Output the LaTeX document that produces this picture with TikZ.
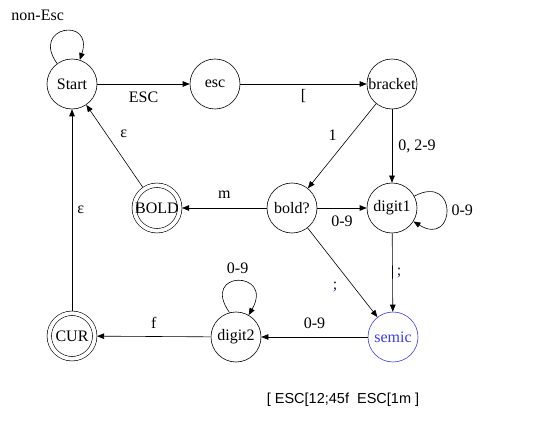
\documentclass[tikz,border=0pt]{standalone}
\usepackage{fontspec}
\setmainfont{Liberation Serif}
\newfontfamily\inputfont{Liberation Sans}
\usetikzlibrary{arrows.meta}
\definecolor{semicblue}{RGB}{60,60,225}
\definecolor{semicmark}{RGB}{30,30,75}
\tikzset{
  every node/.style={font=\fontsize{16}{19}\selectfont, inner sep=2pt},
  state/.style={draw, circle, minimum size=50pt, inner sep=0pt},
  accept/.style={state, double, double distance=3.8pt, minimum size=45.5pt, outer sep=2.3pt},
  trans/.style={-{Triangle[length=7pt,width=5.5pt]}},
}
\begin{document}
\begin{tikzpicture}[x=1pt, y=1pt, line width=0.6pt]
        \useasboundingbox (0,0) rectangle (552,-425);
        % states
        \node [state] (start) at (72,-84) {Start};
        \node [state] (esc) at (215,-84) {esc};
        \node [state] (bracket) at (392,-84) {bracket};
        \node [state] (boldq) at (292,-208) {bold?};
        \node [state] (digit1) at (392,-208) {digit1};
        \node [accept] (bold) at (157,-208) {BOLD};
        \node [accept] (cur) at (72,-336) {CUR};
        \node [state] (digit2) at (236,-337) {digit2};
        \node [state, draw=semicblue, text=semicblue] (semic) at (393,-337) {semic};
        % transitions
        \draw [trans] (start.126) .. controls +(126:46pt) and +(72:46pt) .. (start.72) node [pos=0.5, above=8pt, xshift=-26pt] {non-Esc};
        \draw [trans] (start) -- (esc) node [midway, below=6pt] {ESC};
        \draw [trans] (esc) -- (bracket) node [midway, below=3pt] {[};
        \draw [trans] (bracket) -- (boldq) node [pos=0.37, left=12pt] {1};
        \draw [trans] (bracket) -- (digit1) node [midway, right=4pt] {0, 2-9};
        \draw [trans] (boldq) -- (digit1) node [midway, below=6pt] {0-9};
        \draw [trans] (digit1.28) .. controls +(28:50pt) and +(-32:50pt) .. (digit1.-32) node [pos=0.5, right=3pt] {0-9};
        \draw [trans] (boldq) -- (bold) node [midway, above=7pt] {m};
        \draw [trans] (bold) -- (start) node [pos=0.65, right=12pt] {ε};
        \draw [trans] (boldq) -- (semic) node [pos=0.66, left=14pt, text=semicmark] {;};
        \draw [trans] (digit1) -- (semic) node [midway, right=2pt, text=semicmark] {;};
        \draw [trans] (semic) -- (digit2) node [midway, above=6pt] {0-9};
        \draw [trans] (digit2.105) .. controls +(125:52pt) and +(60:52pt) .. (digit2.60) node [pos=0.5, above=5pt] {0-9};
        \draw [trans] (digit2) -- (cur) node [midway, above=6pt] {f};
        \draw [trans] (cur) -- (start) node [midway, right=3pt] {ε};
        % input string
        \node [font=\inputfont\fontsize{14.5}{17}\selectfont] (input) at (343,-400) {[ ESC[12;45f\ \ ESC[1m ]};
\end{tikzpicture}
\end{document}
